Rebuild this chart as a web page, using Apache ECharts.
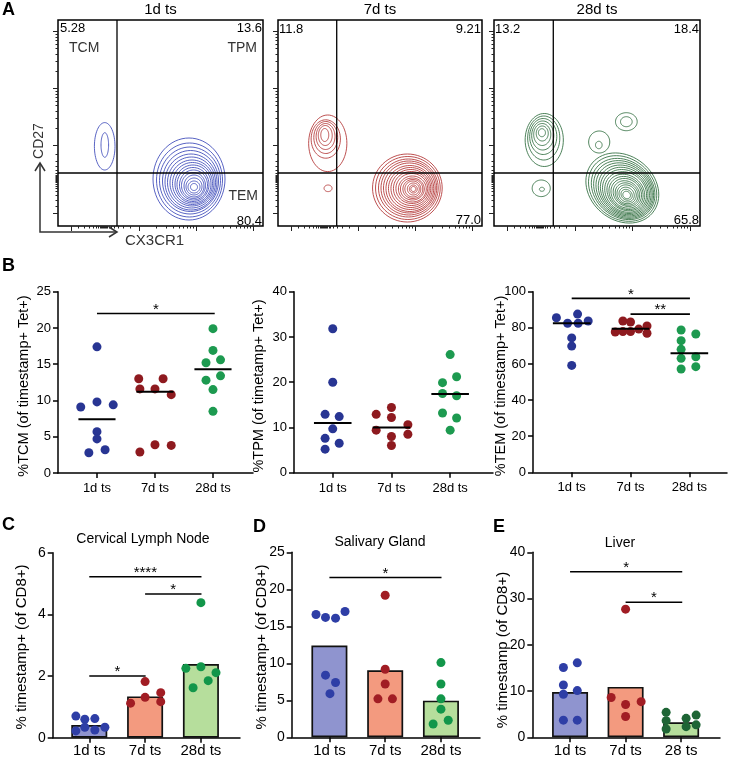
<!DOCTYPE html>
<html><head><meta charset="utf-8">
<script src="https://cdn.jsdelivr.net/npm/echarts@6/dist/echarts.min.js"></script>
<style>html,body{margin:0;padding:0;background:#fff}#c{width:731px;height:760px}</style>
</head><body><div id="c"></div>
<script>
const FONT = "'Liberation Sans', Arial, Helvetica, sans-serif";

// ---------------- Panel A (flow contour plots) ----------------
const flowTitles = ['1d ts', '7d ts', '28d ts'];
const quadA1 = ['5.28', '13.6', '80.4'];   // TCM (UL), TPM (UR), TEM (LR)
const quadA2 = ['11.8', '9.21', '77.0'];
const quadA3 = ['13.2', '18.4', '65.8'];
const flowGate = [59, 53];                 // CX3CR1 gate, CD27 gate (plot units)
const flowMajorTicks = [13, 81, 138, 195];
const flowMinorTicks = [20, 26, 31, 35, 38, 40, 42, 43.5, 44.5, 45.5, 46.5, 47.5, 48.5, 49.5, 51, 53, 56, 60, 65, 72,
                        98, 108, 115, 121, 125, 129, 132, 135, 155, 165, 172, 178, 182, 186, 189, 192];

// contour levels: centre x, centre y, radius x, radius y (plot units)
const a1Cx = [46.7, 46.8, 131, 131.5, 132, 132.5, 133, 133.5, 134, 134.5, 135, 135, 135.5, 135.5, 136, 136, 136, 136];
const a1Cy = [79.7, 81, 47, 46, 45.5, 45, 44, 43.5, 43, 42.5, 42, 41.5, 41, 40.5, 40, 39.5, 39, 39];
const a1Rx = [10.3, 3.8, 36, 33, 30.5, 28, 26, 24, 22, 20, 18, 16, 14, 12, 10, 8, 6, 3.5];
const a1Ry = [23.7, 12.3, 41, 37, 33.5, 30.5, 28, 25.5, 23, 21, 19, 17, 15, 13, 11, 8.5, 6, 3.5];

const a2Cx = [50, 48, 48, 47.8, 47.5, 47, 50.3, 130, 130.5, 131, 131.5, 132, 132.5, 133, 133.5, 134, 134.5, 135, 135, 135.5, 135.5, 136, 136, 136];
const a2Cy = [82.7, 87, 88.5, 89.5, 90.5, 91, 37.7, 38, 38, 38, 38, 38, 37.5, 37.5, 37.5, 37.5, 37.5, 37, 37, 37, 37, 37, 37, 37];
const a2Rx = [19.2, 14.7, 12, 9.5, 7, 4, 4, 35, 32.5, 30, 28, 26, 24, 22, 20, 18, 16, 14, 12, 10, 8, 6, 4, 2.5];
const a2Ry = [28.3, 19.2, 16, 13, 10, 6.5, 3.3, 34, 31.5, 29, 27, 25, 23, 21, 19, 17, 15, 13, 11, 9.5, 8, 6, 4, 2.5];

const a3Cx = [50, 49.5, 49, 48.5, 48, 48, 47.7, 47, 47.7, 131.7, 131.7, 104.7, 104.3,
              127.7, 128, 128.5, 129, 129.5, 130, 130.3, 130.6, 131, 131.2, 131.4, 131.6, 131.8, 132, 132, 132, 132, 132];
const a3Cy = [86, 88, 89.5, 90.5, 91.5, 92.5, 93.3, 37.7, 36.7, 104.3, 104.3, 84, 81,
              38, 37.5, 37, 36.5, 36, 35.5, 35, 34.5, 34, 33.5, 33, 32.7, 32.4, 32, 31.7, 31.4, 31.2, 31];
const a3Rx = [19, 16, 13.5, 11, 8.5, 6, 3.5, 9, 2.5, 10.8, 5.8, 10.5, 3.3,
              39, 36.5, 34, 32, 30, 28, 26, 24, 22, 20, 18, 16, 14, 12, 10, 8, 6, 4];
const a3Ry = [26.5, 22, 18, 14.5, 11, 7.5, 4, 8.3, 2, 9, 5, 11, 3.7,
              32, 30, 28, 26.5, 25, 23.5, 22, 20.5, 19, 17, 15.5, 14, 12, 10.5, 9, 7, 5, 3.5];
const a3Rot = [0, 0, 0, 0, 0, 0, 0, 0, 0, 0, 0, 0, 0,
               -40, -40, -40, -40, -40, -40, -40, -40, -40, -40, -40, -40, -40, -40, -40, -40, -40, -40];

// ---------------- Panel B (dot plots) ----------------
const groupsB = ['1d ts', '7d ts', '28d ts'];
const tcm1d = [17.4, 9.1, 9.8, 9.4, 5.7, 4.7, 2.8, 3.2];
const tcm1dX = [0, -0.28, 0, 0.28, 0, 0, -0.14, 0.14];
const tcm7d = [13.0, 13.0, 11.6, 11.6, 10.8, 2.9, 3.9, 3.8];
const tcm7dX = [-0.28, 0.14, -0.26, 0, 0.28, -0.26, 0, 0.28];
const tcm28d = [19.9, 16.9, 15.2, 15.6, 13.4, 12.8, 11.5, 8.5];
const tcm28dX = [0, 0, -0.12, 0.13, 0.13, -0.12, 0, 0];
const tcmMedian = [7.4, 11.2, 14.3];
const tcmSig = [[0, 2.03, 22, '*']];

const tpm1d = [31.8, 20.0, 12.9, 12.4, 9.7, 7.6, 6.5, 5.2];
const tpm1dX = [0, 0, -0.13, 0.11, 0, -0.13, 0.11, -0.13];
const tpm7d = [12.9, 14.4, 12.2, 9.4, 10.6, 8.0, 8.5, 6.0];
const tpm7dX = [-0.26, 0, 0, -0.26, 0.28, 0, 0.28, 0];
const tpm28d = [26.1, 21.2, 19.9, 17.5, 17.0, 13.2, 12.1, 9.4];
const tpm28dX = [0, 0.11, -0.13, -0.13, 0.11, -0.13, 0.11, 0];
const tpmMedian = [11.0, 10.0, 17.4];
const tpmSig = [];

const tem1d = [85.6, 87.6, 82.5, 82.5, 83.8, 74.4, 69.9, 59.2];
const tem1dX = [-0.26, 0.1, -0.07, 0.11, 0.28, 0, 0, 0];
const tem7d = [77.7, 83.8, 83.2, 77.9, 79.3, 81.0, 77.0, 77.9];
const tem7dX = [-0.26, -0.13, 0, -0.13, 0.14, 0.28, 0.28, 0];
const tem28d = [78.8, 76.6, 72.9, 68.1, 63.1, 64.0, 57.2, 58.5];
const tem28dX = [-0.14, 0.11, -0.14, -0.14, -0.14, 0.11, -0.14, 0.11];
const temMedian = [82.5, 79.5, 65.9];
const temSig = [[0, 2.01, 96.3, '*'], [1, 2.01, 87.6, '**']];

// ---------------- Panels C, D, E (bar + dots) ----------------
const groupsCD = ['1d ts', '7d ts', '28d ts'];
const groupsE = ['1d ts', '7d ts', '28 ts'];
const cln1d = [0.70, 0.60, 0.62, 0.34, 0.25, 0.22, 0.34];
const cln1dX = [-0.24, -0.08, 0.1, -0.08, 0.1, -0.24, 0.28];
const cln7d = [1.82, 1.46, 1.12, 1.31, 1.17];
const cln7dX = [0, 0.28, -0.26, 0, 0.28];
const cln28d = [4.38, 2.25, 2.30, 2.11, 1.85, 1.62];
const cln28dX = [0, -0.27, 0, 0.27, 0.13, -0.14];
const clnMean = [0.41, 1.34, 2.39];
const clnSig = [[0, 2.01, 5.22, '****'], [1, 2.01, 4.66, '*'], [0, 1.01, 2.0, '*']];

const sg1d = [16.6, 16.2, 16.1, 17.0, 8.4, 7.4, 5.9];
const sg1dX = [-0.24, -0.07, 0.11, 0.28, -0.07, 0.11, 0.01];
const sg7d = [19.2, 9.2, 7.2, 5.2, 5.2];
const sg7dX = [0, 0, 0, -0.13, 0.13];
const sg28d = [10.1, 7.2, 5.2, 3.8, 2.3, 1.8];
const sg28dX = [0, 0, 0, 0, 0.13, -0.14];
const sgMean = [12.4, 9.05, 4.95];
const sgSig = [[0, 2.01, 21.6, '*']];

const liv1d = [15.1, 16.1, 11.3, 9.3, 10.1, 3.7, 3.7];
const liv1dX = [-0.12, 0.13, -0.12, -0.12, 0.13, -0.12, 0.13];
const liv7d = [27.7, 8.6, 7.1, 7.7, 4.5];
const liv7dX = [0, -0.26, 0, 0.28, 0];
const liv28d = [5.4, 3.6, 1.8, 4.1, 2.3, 4.8, 2.7];
const liv28dX = [-0.27, -0.27, -0.27, 0.09, 0.09, 0.27, 0.27];
const livMean = [9.8, 10.9, 3.25];
const livSig = [[0, 2.02, 35.8, '*'], [1, 2.02, 29.2, '*']];

// ---------------- build ----------------
const grids = [], xAxis = [], yAxis = [], series = [], graphic = [];

function flowPlot(box, cx, cy, rx, ry, rot, color) {
  const gi = grids.length;
  grids.push({left: box[0], top: box[1], width: box[2], height: box[3], show: true,
    borderColor: '#000', borderWidth: 1.5, backgroundColor: 'rgba(0,0,0,0)'});
  const xi = xAxis.length, yi = yAxis.length;
  const tick = (pos, max, vals, len) => ({gridIndex: gi, type: 'value', min: 0, max: max, position: pos,
    axisLine: {show: false}, splitLine: {show: false}, axisLabel: {show: false},
    axisTick: {show: true, inside: false, length: len, customValues: vals, lineStyle: {color: '#222', width: 1}}});
  xAxis.push(tick('bottom', 205, flowMajorTicks, 5), tick('bottom', 205, flowMinorTicks, 2.5));
  yAxis.push(tick('left', 206, flowMajorTicks, 5), tick('left', 206, flowMinorTicks, 2.5));
  const data = cx.map((v, i) => [v, cy[i], rx[i], ry[i], rot ? rot[i] : 0]);
  series.push({type: 'custom', xAxisIndex: xi, yAxisIndex: yi, clip: true, silent: true, data: data,
    renderItem: (p, api) => {
      const x0 = api.value(0), y0 = api.value(1), a = api.value(2), b = api.value(3);
      const r = api.value(4) * Math.PI / 180;
      const pts = [];
      for (let k = 0; k < 64; k++) {
        const t = k / 64 * 2 * Math.PI;
        const ex = a * Math.cos(t), ey = b * Math.sin(t);
        pts.push(api.coord([x0 + ex * Math.cos(r) - ey * Math.sin(r), y0 + ex * Math.sin(r) + ey * Math.cos(r)]));
      }
      return {type: 'polygon', shape: {points: pts}, style: {fill: null, stroke: color, lineWidth: 0.85}};
    }});
  series.push({type: 'line', xAxisIndex: xi, yAxisIndex: yi, silent: true, symbol: 'none',
    data: [[flowGate[0], 0], [flowGate[0], 206]], lineStyle: {color: '#000', width: 1.3}, z: 5});
  series.push({type: 'line', xAxisIndex: xi, yAxisIndex: yi, silent: true, symbol: 'none',
    data: [[0, flowGate[1]], [205, flowGate[1]]], lineStyle: {color: '#000', width: 1.4}, z: 5});
}

function dotPlot(c) {
  const gi = grids.length;
  grids.push({left: c.box[0], top: c.box[1], width: c.box[2], height: c.box[3]});
  const xi = xAxis.length, yi = yAxis.length;
  const axisLine = {show: true, onZero: false, lineStyle: {color: '#000', width: 1.5}};
  xAxis.push({gridIndex: gi, type: 'value', min: c.xMin, max: c.xMax, axisLine: axisLine, splitLine: {show: false},
    axisTick: {show: true, length: 5, customValues: [0, 1, 2], lineStyle: {color: '#000', width: 1.5}},
    axisLabel: {customValues: [0, 1, 2], formatter: v => c.labels[Math.round(v)], fontSize: c.xFont,
      fontFamily: FONT, color: '#000', margin: c.xMargin}});
  yAxis.push({gridIndex: gi, type: 'value', min: 0, max: c.yMax, interval: c.yStep, axisLine: axisLine,
    splitLine: {show: false},
    axisTick: {show: true, length: 5, lineStyle: {color: '#000', width: 1.5}},
    axisLabel: {fontSize: c.yFont, fontFamily: FONT, color: '#000', margin: 7}});
  if (c.bars) {
    series.push({type: 'bar', xAxisIndex: xi, yAxisIndex: yi, barWidth: 36, silent: true, z: 2,
      data: c.bars.map((v, i) => ({value: [i, v], itemStyle: {color: c.barColors[i]}})),
      itemStyle: {borderColor: '#111', borderWidth: 1.7}});
  }
  c.groups.forEach((g, i) => {
    series.push({type: 'scatter', xAxisIndex: xi, yAxisIndex: yi, silent: true, z: 3, symbolSize: 9,
      itemStyle: {color: g[2], opacity: 1}, data: g[0].map((v, k) => [i + g[1][k], v])});
  });
  if (c.medians) {
    series.push({type: 'custom', xAxisIndex: xi, yAxisIndex: yi, silent: true, z: 4,
      data: c.medians.map((m, i) => [i, m]),
      renderItem: (p, api) => {
        const a = api.coord([api.value(0) - 0.32, api.value(1)]);
        const b = api.coord([api.value(0) + 0.32, api.value(1)]);
        return {type: 'line', shape: {x1: a[0], y1: a[1], x2: b[0], y2: b[1]}, style: {stroke: '#000', lineWidth: 2}};
      }});
  }
  if (c.sigs && c.sigs.length) {
    series.push({type: 'custom', xAxisIndex: xi, yAxisIndex: yi, silent: true, z: 4,
      data: c.sigs.map(s => [s[0], s[2]]),
      renderItem: (p, api) => {
        const s = c.sigs[p.dataIndex];
        const a = api.coord([s[0], s[2]]), b = api.coord([s[1], s[2]]);
        return {type: 'group', children: [
          {type: 'line', shape: {x1: a[0], y1: a[1], x2: b[0], y2: b[1]}, style: {stroke: '#000', lineWidth: 1.6}},
          {type: 'text', x: (a[0] + b[0]) / 2, y: a[1] - 4,
            style: {text: s[3], fontSize: 15, fontFamily: FONT, fill: '#000', align: 'center', verticalAlign: 'middle'}}
        ]};
      }});
  }
}

// Panel A
const BLUE_C = '#3a47b8', RED_C = '#b13232', GREEN_C = '#2d6b3c';
flowPlot([58, 20, 205, 206], a1Cx, a1Cy, a1Rx, a1Ry, null, BLUE_C);
flowPlot([278, 20, 204, 206], a2Cx, a2Cy, a2Rx, a2Ry, null, RED_C);
flowPlot([494, 20, 206, 206], a3Cx, a3Cy, a3Rx, a3Ry, a3Rot, GREEN_C);

// Panel B
const BB = '#283593', BR = '#8e1a1f', BG = '#1d9a50';
dotPlot({box: [58, 291.7, 195, 181.3], xMin: -0.672, xMax: 2.69, yMax: 25, yStep: 5, labels: groupsB,
  xFont: 13, yFont: 13, xMargin: 9,
  groups: [[tcm1d, tcm1dX, BB], [tcm7d, tcm7dX, BR], [tcm28d, tcm28dX, BG]], medians: tcmMedian, sigs: tcmSig});
dotPlot({box: [294, 291.7, 199, 181], xMin: -0.66, xMax: 2.73, yMax: 40, yStep: 10, labels: groupsB,
  xFont: 13, yFont: 13, xMargin: 9,
  groups: [[tpm1d, tpm1dX, BB], [tpm7d, tpm7dX, BR], [tpm28d, tpm28dX, BG]], medians: tpmMedian, sigs: tpmSig});
dotPlot({box: [533, 291.7, 194, 180.6], xMin: -0.658, xMax: 2.64, yMax: 100, yStep: 20, labels: groupsB,
  xFont: 13, yFont: 13, xMargin: 9,
  groups: [[tem1d, tem1dX, BB], [tem7d, tem7dX, BR], [tem28d, tem28dX, BG]], medians: temMedian, sigs: temSig});

// Panels C D E
const CB = '#2e3ea6', CR = '#a11d24', CG = '#12964a', EG = '#1e6535';
const barCols = ['#8f94cf', '#f39a7f', '#b6de9c'];
dotPlot({box: [52.7, 552.7, 187.3, 185], xMin: -0.655, xMax: 2.70, yMax: 6, yStep: 2, labels: groupsCD,
  xFont: 15, yFont: 14, xMargin: 6, bars: clnMean, barColors: barCols,
  groups: [[cln1d, cln1dX, CB], [cln7d, cln7dX, CR], [cln28d, cln28dX, CG]], sigs: clnSig});
dotPlot({box: [291.7, 552.3, 188.3, 185], xMin: -0.676, xMax: 2.70, yMax: 25, yStep: 5, labels: groupsCD,
  xFont: 15, yFont: 14, xMargin: 6, bars: sgMean, barColors: barCols,
  groups: [[sg1d, sg1dX, CB], [sg7d, sg7dX, CR], [sg28d, sg28dX, CG]], sigs: sgSig});
dotPlot({box: [532.3, 552.3, 187.7, 185], xMin: -0.68, xMax: 2.70, yMax: 40, yStep: 10, labels: groupsE,
  xFont: 15, yFont: 14, xMargin: 6, bars: livMean, barColors: barCols,
  groups: [[liv1d, liv1dX, CB], [liv7d, liv7dX, CR], [liv28d, liv28dX, EG]], sigs: livSig});

// ---------------- text / decorations ----------------
function txt(x, y, text, size, opt) {
  opt = opt || {};
  graphic.push({type: 'text', x: x, y: y, rotation: opt.rot || 0, z: 100, silent: true,
    style: {text: text, fontSize: size, fontFamily: FONT, fontWeight: opt.bold ? 'bold' : 'normal',
      fill: opt.color || '#000', align: opt.align || 'center', verticalAlign: 'middle'}});
}
// titles of flow plots
txt(160.5, 10, flowTitles[0], 15); txt(380, 10, flowTitles[1], 15); txt(597, 10, flowTitles[2], 15);
// panel letters
txt(2, 10, 'A', 18, {bold: true, align: 'left'});
txt(2, 266, 'B', 18, {bold: true, align: 'left'});
txt(2, 525, 'C', 18, {bold: true, align: 'left'});
txt(253, 527, 'D', 18, {bold: true, align: 'left'});
txt(493, 527, 'E', 18, {bold: true, align: 'left'});
// quadrant values
txt(60, 28, quadA1[0], 13, {align: 'left'});
txt(262, 28, quadA1[1], 13, {align: 'right'});
txt(262, 221, quadA1[2], 13, {align: 'right'});
txt(69, 48, 'TCM', 14, {align: 'left', color: '#333'});
txt(257, 48, 'TPM', 14, {align: 'right', color: '#333'});
txt(258, 196, 'TEM', 14, {align: 'right', color: '#333'});
txt(279, 29, quadA2[0], 13, {align: 'left'});
txt(481, 29, quadA2[1], 13, {align: 'right'});
txt(481, 220, quadA2[2], 13, {align: 'right'});
txt(495, 29, quadA3[0], 13, {align: 'left'});
txt(699, 29, quadA3[1], 13, {align: 'right'});
txt(699, 220, quadA3[2], 13, {align: 'right'});
// axis arrows of panel A
graphic.push({type: 'polyline', z: 100, silent: true, shape: {points: [[40, 164], [40, 232], [117, 232]]},
  style: {stroke: '#333', lineWidth: 1.5, fill: null}});
graphic.push({type: 'polyline', z: 100, silent: true, shape: {points: [[35, 171], [40, 163], [45, 171]]},
  style: {stroke: '#333', lineWidth: 1.5, fill: null}});
graphic.push({type: 'polyline', z: 100, silent: true, shape: {points: [[109, 227], [117, 232], [109, 237]]},
  style: {stroke: '#333', lineWidth: 1.5, fill: null}});
txt(39, 141, 'CD27', 14, {rot: Math.PI / 2, color: '#333'});
txt(125, 241, 'CX3CR1', 15, {align: 'left', color: '#333'});
// y axis titles
txt(23.5, 386, '%TCM (of timestamp+ Tet+)', 14.5, {rot: Math.PI / 2});
txt(259, 386, '%TPM (of timetamp+ Tet+)', 14.5, {rot: Math.PI / 2});
txt(501, 386, '%TEM (of timestamp+ Tet+)', 14.5, {rot: Math.PI / 2});
txt(22, 647, '% timestamp+ (of CD8+)', 15, {rot: Math.PI / 2});
txt(262, 647, '% timestamp+ (of CD8+)', 15, {rot: Math.PI / 2});
txt(503, 650, '% timestamp (of CD8+)', 15, {rot: Math.PI / 2});
// titles of C D E
txt(143, 539, 'Cervical Lymph Node', 14);
txt(380, 542, 'Salivary Gland', 14);
txt(620, 543, 'Liver', 14);

const chart = echarts.init(document.getElementById('c'), null, {renderer: 'canvas'});
chart.setOption({animation: false, backgroundColor: '#fff', grid: grids, xAxis: xAxis, yAxis: yAxis,
  series: series, graphic: graphic});
</script></body></html>
